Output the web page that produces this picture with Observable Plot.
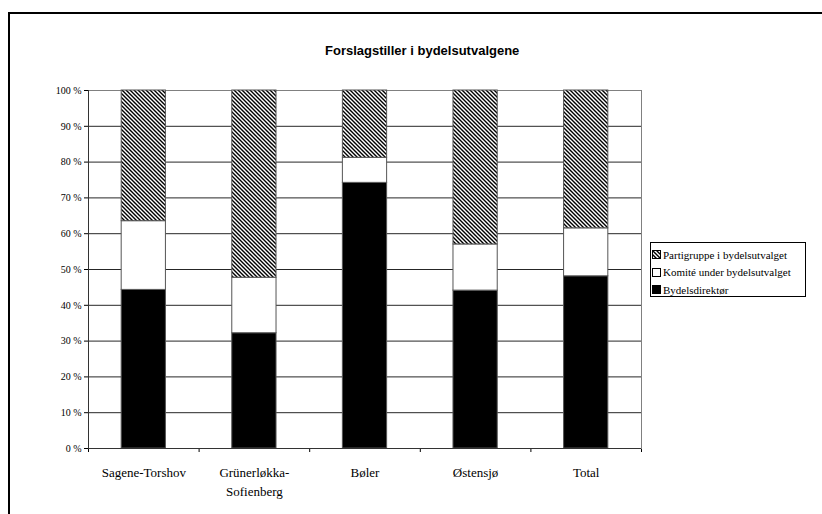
<!DOCTYPE html>
<html>
<head>
<meta charset="utf-8">
<script src="https://cdn.jsdelivr.net/npm/d3@7"></script>
<script src="https://cdn.jsdelivr.net/npm/@observablehq/plot@0.6"></script>
<style>
  html, body { margin: 0; padding: 0; background: #fff; }
  #wrap { position: relative; width: 822px; height: 514px; overflow: hidden; background: #fff; }
  #chart { position: absolute; left: 0; top: 0; }
  #border { position: absolute; left: 8px; top: 12px; width: 900px; height: 600px;
            border-left: 2px solid #000; border-top: 2px solid #000; box-sizing: border-box; }
  #title { position: absolute; left: 325px; top: 43px; font: bold 13px "Liberation Sans", Arial, sans-serif; color: #000; white-space: nowrap; }
  #legend { position: absolute; left: 650px; top: 242px; width: 156px; height: 55px; box-sizing: border-box;
            border: 1px solid #000; background: #fff; padding: 3px 0 0 1px;
            font: 11px "Liberation Serif", "Times New Roman", serif; color: #000; }
  #legend .item { display: flex; align-items: center; height: 17.5px; white-space: nowrap; }
  #legend svg { margin-right: 2px; flex: none; }
</style>
</head>
<body>
<svg width="0" height="0" style="position:absolute">
  <defs>
    <pattern id="hatch" patternUnits="userSpaceOnUse" width="4" height="4">
      <rect width="4" height="4" fill="#fff"></rect>
      <path d="M-1,-1 L5,5 M-1,3 L1,5 M3,-1 L5,1" stroke="#000" stroke-width="1.4"></path>
    </pattern>
  </defs>
</svg>
<div id="wrap">
  <div id="chart"></div>
  <div id="border"></div>
  <div id="title">Forslagstiller i bydelsutvalgene</div>
  <div id="legend"></div>
</div>
<script>
// ---- data ----
const categories = ["Sagene-Torshov", "Grünerløkka-Sofienberg", "Bøler", "Østensjø", "Total"];
const categoryLabels = ["Sagene-Torshov", "Grünerløkka-\nSofienberg", "Bøler", "Østensjø", "Total"];
const seriesNames = ["Bydelsdirektør", "Komité under bydelsutvalget", "Partigruppe i bydelsutvalget"];
const bydelsdirektor = [44.3, 32.2, 74.2, 44.1, 48.1];
const komite = [19.2, 15.5, 7.0, 12.9, 13.4];
const partigruppe = [36.5, 52.3, 18.8, 43.0, 38.5];
const yTicks = [0, 10, 20, 30, 40, 50, 60, 70, 80, 90, 100];
const legendOrder = ["Partigruppe i bydelsutvalget", "Komité under bydelsutvalget", "Bydelsdirektør"];

// ---- build stacked rows (bottom to top) ----
const seriesValues = [bydelsdirektor, komite, partigruppe];
const seriesFill = ["#000", "#fff", "url(#hatch)"];
const rows = [];
categories.forEach((c, i) => {
  let base = 0;
  seriesValues.forEach((vals, s) => {
    rows.push({cat: c, idx: i, series: seriesNames[s], y1: base, y2: base + vals[i]});
    base += vals[i];
  });
});

const barMarks = seriesNames.map((name, s) =>
  Plot.rect(rows.filter(r => r.series === name), {
    x1: d => d.idx + 0.3,
    x2: d => d.idx + 0.7,
    y1: "y1",
    y2: "y2",
    fill: seriesFill[s],
    stroke: "#555",
    strokeWidth: 1
  })
);

const chart = Plot.plot({
  width: 822,
  height: 514,
  marginLeft: 88,
  marginRight: 181,
  marginTop: 90,
  marginBottom: 66,
  style: {fontFamily: "'Liberation Serif', 'Times New Roman', serif", fontSize: "10px", background: "transparent", color: "#000"},
  x: {domain: [0, categories.length], ticks: d3.range(categories.length + 1), tickFormat: () => "", tickSize: 4, label: null},
  y: {domain: [0, 100], ticks: yTicks, tickFormat: d => d + " %", tickSize: 4, tickPadding: 3, label: null},
  marks: [
    Plot.ruleY(yTicks, {stroke: "#000", strokeOpacity: 0.85}),
    Plot.frame({stroke: "#808080"}),
    ...barMarks,
    Plot.ruleX([0], {stroke: "#333"}),
    Plot.ruleY([0], {stroke: "#333"}),
    Plot.text(categoryLabels, {
      x: (d, i) => i + 0.5,
      y: 0,
      text: d => d,
      dy: 15,
      lineAnchor: "top",
      lineHeight: 1.45,
      fontSize: 13,
      fontFamily: "'Liberation Serif', 'Times New Roman', serif",
      fill: "#000"
    })
  ]
});
document.getElementById("chart").appendChild(chart);

// ---- legend ----
const legend = document.getElementById("legend");
legendOrder.forEach(name => {
  const s = seriesNames.indexOf(name);
  const item = document.createElement("div");
  item.className = "item";
  item.innerHTML = `<svg width="9" height="9"><rect x="0.5" y="0.5" width="8" height="8" fill="${seriesFill[s]}" stroke="#000" stroke-width="1"></rect></svg><span>${name}</span>`;
  legend.appendChild(item);
});
</script>
</body>
</html>
